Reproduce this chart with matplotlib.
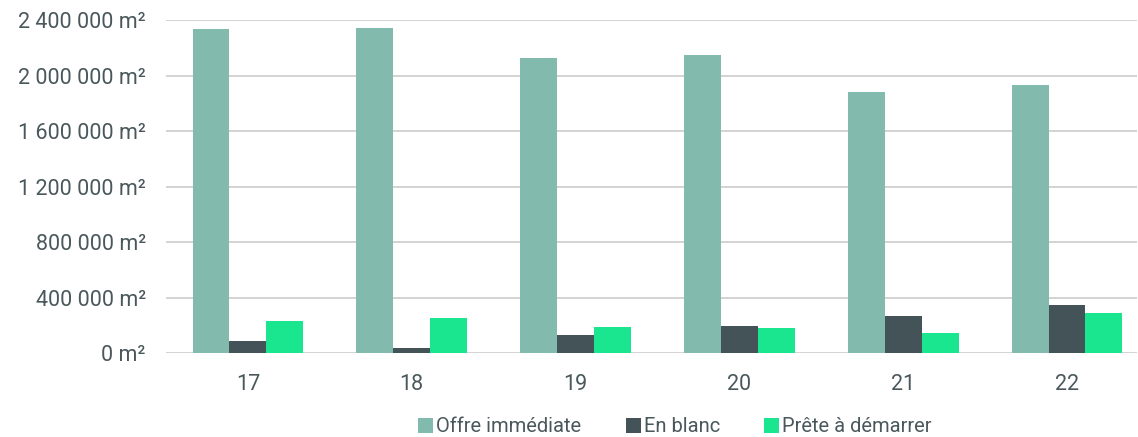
import matplotlib
matplotlib.use("Agg")
import matplotlib.pyplot as plt
from matplotlib.patches import Patch
import numpy as np

categories = ["17", "18", "19", "20", "21", "22"]
offre_immediate = [2335000, 2342000, 2126000, 2147000, 1884000, 1935000]
en_blanc = [89000, 34000, 132000, 195000, 265000, 344000]
prete_a_demarrer = [228000, 250000, 188000, 178000, 144000, 287000]
series_names = ["Offre immédiate", "En blanc", "Prête à démarrer"]
colors = ["#82bbad", "#435357", "#19e68f"]
yticks = [0, 400000, 800000, 1200000, 1600000, 2000000, 2400000]

plt.rcParams['font.family'] = ['Roboto', 'DejaVu Sans']
text_color = "#4a585c"

W, H = 1138, 437
fig = plt.figure(figsize=(W / 100, H / 100), dpi=100)
ax = fig.add_axes([166 / W, (H - 353) / H, (1137 - 166) / W, (353 - 20.3) / H])

x = np.arange(len(categories))
bw = 0.225
for i, (vals, c) in enumerate(zip([offre_immediate, en_blanc, prete_a_demarrer], colors)):
    ax.bar(x + (i - 1) * bw, vals, width=bw, color=c, zorder=3, linewidth=0)

ax.set_ylim(0, 2400000)
ax.set_xlim(-0.5, 5.427)
ax.set_yticks(yticks)
ax.set_yticklabels([f"{v:,.0f}".replace(",", " ") + " m²" for v in yticks])
ax.set_xticks(x)
ax.set_xticklabels(categories)
ax.yaxis.grid(True, color="#cccccc", linewidth=1.2, zorder=0)
ax.set_axisbelow(True)
for s in ax.spines.values():
    s.set_visible(False)
ax.tick_params(axis="both", length=0, labelsize=15.5, colors=text_color)
ax.tick_params(axis="y", pad=14.5)
ax.tick_params(axis="x", pad=15)

handles = [Patch(facecolor=c, edgecolor="none", label=n) for c, n in zip(colors, series_names)]
leg = fig.legend(handles=handles, loc="center", bbox_to_anchor=(675 / W, (H - 427) / H),
                 ncol=3, frameon=False, fontsize=14.5, handlelength=0.75, handleheight=0.75,
                 handletextpad=0.15, columnspacing=2.2, labelcolor=text_color)

fig.savefig("out.png", dpi=100)
